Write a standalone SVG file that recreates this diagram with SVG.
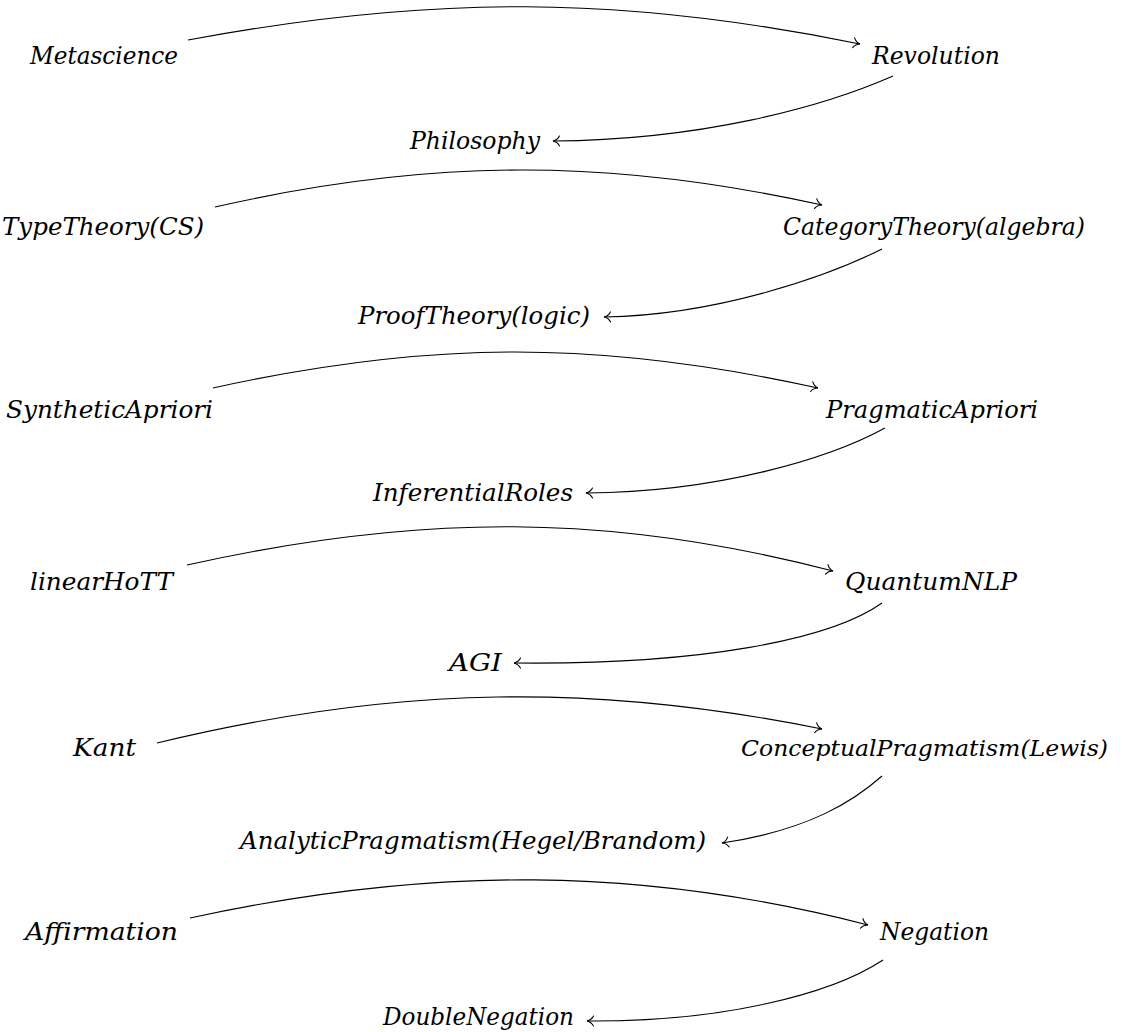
<svg xmlns="http://www.w3.org/2000/svg" width="1122" height="1032" viewBox="0 0 1122 1032">
<style>
  text { font-family: "DejaVu Serif", "Liberation Serif", "Noto Serif", serif; font-style: italic; font-size: 25px; fill: #000; }
  text.sm { font-size: 22px; }
  .edge { fill: none; stroke: #000; stroke-width: 1.1; marker-end: url(#to); }
</style>
<defs>
  <marker id="to" markerUnits="userSpaceOnUse" markerWidth="14" markerHeight="14" viewBox="-8 -7 10 14" refX="0" refY="0" orient="auto">
    <path d="M-6.5,-5 C-5,-2.2 -2.2,-0.5 0,0 C-2.2,0.5 -5,2.2 -6.5,5" fill="none" stroke="#000" stroke-width="1.1" stroke-linecap="round"/>
  </marker>
</defs>
<rect width="1122" height="1032" fill="#fff"/>
<g id="nodes">
  <g id="n-metascience"><text x="30" y="64" textLength="148" lengthAdjust="spacingAndGlyphs">Metascience</text></g>
  <g id="n-revolution"><text x="872" y="64" textLength="128" lengthAdjust="spacingAndGlyphs">Revolution</text></g>
  <g id="n-philosophy"><text x="410" y="149" textLength="130" lengthAdjust="spacingAndGlyphs">Philosophy</text></g>
  <g id="n-typetheory"><text x="2" y="235" textLength="202" lengthAdjust="spacingAndGlyphs">TypeTheory(CS)</text></g>
  <g id="n-categorytheory"><text x="783" y="235" textLength="302" lengthAdjust="spacingAndGlyphs">CategoryTheory(algebra)</text></g>
  <g id="n-prooftheory"><text x="358" y="324" textLength="232" lengthAdjust="spacingAndGlyphs">ProofTheory(logic)</text></g>
  <g id="n-synthetic"><text x="6" y="418" textLength="207" lengthAdjust="spacingAndGlyphs">SyntheticApriori</text></g>
  <g id="n-pragmatic"><text x="826" y="418" textLength="212" lengthAdjust="spacingAndGlyphs">PragmaticApriori</text></g>
  <g id="n-inferential"><text x="373" y="501" textLength="200" lengthAdjust="spacingAndGlyphs">InferentialRoles</text></g>
  <g id="n-linearhott"><text x="30" y="590" textLength="143" lengthAdjust="spacingAndGlyphs">linearHoTT</text></g>
  <g id="n-quantumnlp"><text x="845" y="590" textLength="172" lengthAdjust="spacingAndGlyphs">QuantumNLP</text></g>
  <g id="n-agi"><text x="449" y="671" textLength="53" lengthAdjust="spacingAndGlyphs">AGI</text></g>
  <g id="n-kant"><text x="73" y="756" textLength="63" lengthAdjust="spacingAndGlyphs">Kant</text></g>
  <g id="n-conceptual"><text class="sm" x="741" y="756" textLength="367" lengthAdjust="spacingAndGlyphs">ConceptualPragmatism(Lewis)</text></g>
  <g id="n-analytic"><text x="240" y="849" textLength="466" lengthAdjust="spacingAndGlyphs">AnalyticPragmatism(Hegel/Brandom)</text></g>
  <g id="n-affirmation"><text x="25" y="940" textLength="153" lengthAdjust="spacingAndGlyphs">Affirmation</text></g>
  <g id="n-negation"><text x="880" y="940" textLength="109" lengthAdjust="spacingAndGlyphs">Negation</text></g>
  <g id="n-doublenegation"><text x="383" y="1025" textLength="191" lengthAdjust="spacingAndGlyphs">DoubleNegation</text></g>
</g>
<g id="connectors">
  <path class="edge" d="M188,40 C430,-5 620,-5 860,44"/>
  <path class="edge" d="M893,76 C820,108 700,140 553,141"/>
  <path class="edge" d="M215,207 C430,158 610,158 822,205"/>
  <path class="edge" d="M882,249 C830,275 720,315 604,317"/>
  <path class="edge" d="M213,388 C430,340 600,340 818,388"/>
  <path class="edge" d="M885,428 C830,458 720,492 586,493"/>
  <path class="edge" d="M187,565 C420,513 610,513 833,571"/>
  <path class="edge" d="M882,603 C830,640 700,665 514,663"/>
  <path class="edge" d="M157,743 C400,684 600,684 822,729"/>
  <path class="edge" d="M882,776 C855,800 810,830 722,843"/>
  <path class="edge" d="M190,918 C430,866 640,866 868,925"/>
  <path class="edge" d="M883,960 C830,995 720,1022 587,1021"/>
</g>
</svg>
